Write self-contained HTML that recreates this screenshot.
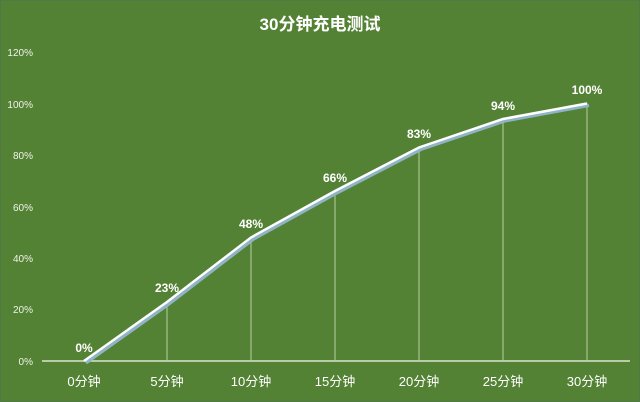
<!DOCTYPE html>
<html><head><meta charset="utf-8"><style>
html,body{margin:0;padding:0;background:#548235;}
svg{display:block;}
text{font-family:"Liberation Sans","Noto Sans CJK SC",sans-serif;fill:#fff;}
</style></head><body>
<svg width="640" height="402" viewBox="0 0 640 402" xmlns="http://www.w3.org/2000/svg">
<rect x="0" y="0" width="640" height="402" fill="#548235"/>
<rect x="0.5" y="0.5" width="639" height="401" fill="none" stroke="#4f7a45" stroke-width="1"/>
<text x="320" y="30" text-anchor="middle" font-size="17" font-weight="bold">30分钟充电测试</text>
<g font-size="10" text-anchor="end" fill-opacity="0.9">
<text x="33" y="365">0%</text>
<text x="33" y="313">20%</text>
<text x="33" y="262">40%</text>
<text x="33" y="211">60%</text>
<text x="33" y="159">80%</text>
<text x="33" y="108">100%</text>
<text x="33" y="56">120%</text>
</g>
<line x1="42" y1="361" x2="630" y2="361" stroke="#d9e6cc" stroke-width="1.5"/>
<g stroke="#b9cf9f" stroke-width="1">
<line x1="167" y1="302" x2="167" y2="361"/>
<line x1="251" y1="237" x2="251" y2="361"/>
<line x1="335" y1="191" x2="335" y2="361"/>
<line x1="419" y1="147" x2="419" y2="361"/>
<line x1="503" y1="119" x2="503" y2="361"/>
<line x1="587" y1="103" x2="587" y2="361"/>
</g>
<polyline points="86,363 169,304 253,239.5 337,193 421,149.5 505,121 589,105.5" fill="none" stroke="#8fb4c8" stroke-width="3"/>
<polyline points="84,361 167,302 251,237.5 335,191 419,147.5 503,119 587,103.5" fill="none" stroke="#ffffff" stroke-width="2.5"/>
<g font-size="12" font-weight="bold" text-anchor="middle">
<text x="84" y="352">0%</text>
<text x="167" y="292">23%</text>
<text x="251" y="228">48%</text>
<text x="335" y="182">66%</text>
<text x="419" y="138">83%</text>
<text x="503" y="110">94%</text>
<text x="587" y="94">100%</text>
</g>
<g font-size="13" text-anchor="middle">
<text x="84" y="386">0分钟</text>
<text x="167" y="386">5分钟</text>
<text x="251" y="386">10分钟</text>
<text x="335" y="386">15分钟</text>
<text x="419" y="386">20分钟</text>
<text x="503" y="386">25分钟</text>
<text x="587" y="386">30分钟</text>
</g>
</svg>
</body></html>
